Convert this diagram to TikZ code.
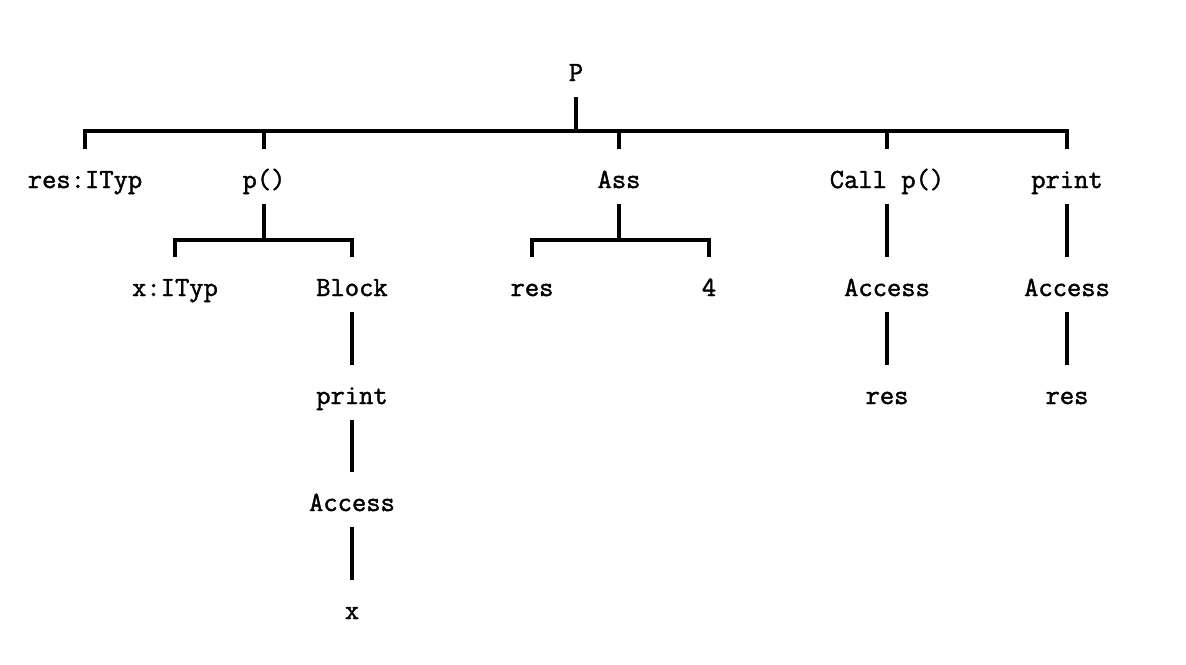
\documentclass[tikz,border=0pt]{standalone}
\usepackage{fontspec}
\newfontfamily\courfont{Latin Modern Mono}[FakeBold=1.6]
\begin{document}
\begin{tikzpicture}[x=0.02cm,y=-0.02cm]
\tikzset{
  lbl/.style={font=\courfont\fontsize{15.8}{18}\selectfont, anchor=base, inner sep=0pt, text height=22pt, text depth=9pt},
  edge/.style={line width=1.75pt}
}
\useasboundingbox (0,0) rectangle (1186,664);
% nodes
\node[lbl] (P) at (576,81) {P};
\node[lbl] (resT) at (85,188) {res:ITyp};
\node[lbl] (pf) at (264,188) {p()};
\node[lbl] (ass) at (619,188) {Ass};
\node[lbl] (call) at (887,188) {Call p()};
\node[lbl] (prA) at (1067,188) {print};
\node[lbl] (xT) at (175,296) {x:ITyp};
\node[lbl] (blk) at (352,296) {Block};
\node[lbl] (resA) at (532,296) {res};
\node[lbl] (four) at (709,296) {4};
\node[lbl] (accA) at (887,296) {Access};
\node[lbl] (accB) at (1067,296) {Access};
\node[lbl] (resB) at (887,404) {res};
\node[lbl] (resC) at (1067,404) {res};
\node[lbl] (prB) at (352,404) {print};
\node[lbl] (accC) at (352,511) {Access};
\node[lbl] (xx) at (352,619) {x};
% bars
\coordinate (b0) at (576,131);
\coordinate (b1) at (264,240);
\coordinate (b2) at (619,240);
\draw[edge] (P.south) -- (b0);
\draw[edge] (resT.north) -- (resT.north |- b0) -- (prA.north |- b0) -- (prA.north);
\draw[edge] (pf.north) -- (pf.north |- b0);
\draw[edge] (ass.north) -- (ass.north |- b0);
\draw[edge] (call.north) -- (call.north |- b0);
\draw[edge] (pf.south) -- (b1);
\draw[edge] (xT.north) -- (xT.north |- b1) -- (blk.north |- b1) -- (blk.north);
\draw[edge] (ass.south) -- (b2);
\draw[edge] (resA.north) -- (resA.north |- b2) -- (four.north |- b2) -- (four.north);
\draw[edge] (call.south) -- (accA.north);
\draw[edge] (accA.south) -- (resB.north);
\draw[edge] (prA.south) -- (accB.north);
\draw[edge] (accB.south) -- (resC.north);
\draw[edge] (blk.south) -- (prB.north);
\draw[edge] (prB.south) -- (accC.north);
\draw[edge] (accC.south) -- (xx.north);
\end{tikzpicture}
\end{document}
